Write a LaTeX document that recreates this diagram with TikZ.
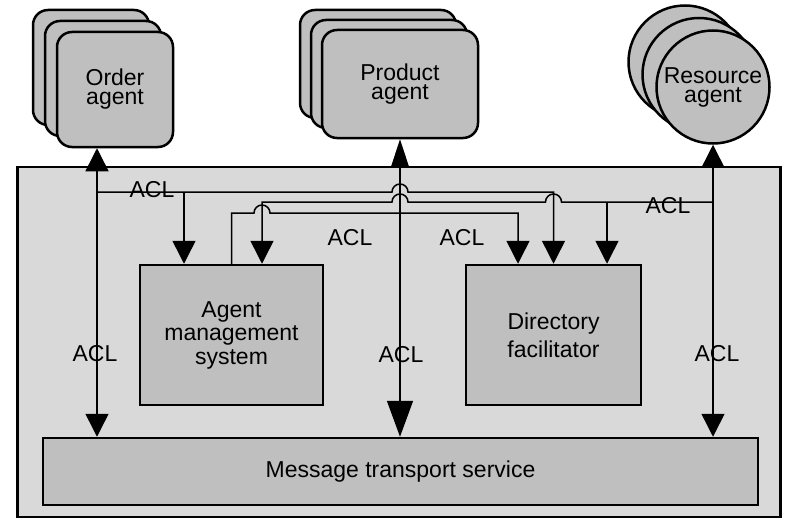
\documentclass[tikz,border=0pt]{standalone}
\usepackage{fontspec}
\setmainfont{Liberation Sans}
\usetikzlibrary{arrows.meta}
\definecolor{platgray}{gray}{0.85}
\definecolor{boxgray}{gray}{0.75}
\newcommand{\agentstack}[7]{%
  \node[#2] (#1back) at (#3-2*#5,#4-2*#6) {};
  \node[#2] (#1mid) at (#3-#5,#4-#6) {};
  \node[#2] (#1) at (#3,#4) {#7};
}

\begin{document}
\begin{tikzpicture}[x=1pt,y=-1pt,>={Triangle[length=23pt,width=23pt]},
  font=\fontsize{23}{23.5}\selectfont,
  block/.style={draw,line width=2.5pt,fill=boxgray,inner sep=0pt,align=center},
  agent/.style={block,rounded corners=15pt,font=\fontsize{23}{19}\selectfont},
  orderbox/.style={agent,minimum width=116pt,minimum height=115pt},
  prodbox/.style={agent,minimum width=156pt,minimum height=108pt},
  resbox/.style={agent,circle,minimum size=113pt},
  msg/.style={line width=1.5pt},
  acl/.style={inner sep=0pt}]
  \useasboundingbox (0,0) rectangle (786,519);
  \agentstack{order}{orderbox}{115}{89.5}{12}{11}{Order\\agent}
  \agentstack{prod}{prodbox}{400}{84}{11}{10}{Product\\agent}
  \agentstack{res}{resbox}{713}{87}{14}{12.5}{Resource\\agent}
  \node[block,fill=platgray,minimum width=763pt,minimum height=350pt] (platform) at (399,342) {};
  \node[block,minimum width=715pt,minimum height=67pt] (mts) at (400.5,471.5) {Message transport service};
  \node[block,minimum width=183pt,minimum height=140pt] (ams) at (231.5,335) {Agent\\management\\system};
  \node[block,minimum width=175pt,minimum height=140pt,font=\fontsize{23}{28}\selectfont] (df) at (553.5,335) {Directory\\facilitator};
  \coordinate (ordertap) at ([xshift=-18pt]order.south);
  \coordinate (tapA) at (97,192);
  \coordinate (amstap) at (184,192);
  \coordinate (tapB) at (713,202);
  \coordinate (dftap) at (607,202);
  \draw[msg,<->] (ordertap) -- (ordertap |- mts.north);
  \draw[msg,{Triangle[length=28pt,width=18pt]}-{Triangle[length=36pt,width=26pt]}] (prod.south) -- (prod.south |- mts.north);
  \draw[msg,<->] (res.south) -- (res.south |- mts.north);
  \draw[msg,->] (tapA) -- (392,192) arc[start angle=180,end angle=0,radius=8pt] -| (df.north);
  \draw[msg,->] (amstap) -- (amstap |- ams.north);
  \draw[msg,->] (tapB) -- (561.5,202) arc[start angle=0,end angle=180,radius=8pt] -- (408,202) arc[start angle=0,end angle=180,radius=8pt] -| ([xshift=30.5pt]ams.north);
  \draw[msg,->] (dftap) -- (dftap |- df.north);
  \draw[msg,->] (ams.north) |- (254,213) arc[start angle=180,end angle=0,radius=8pt] -| ([xshift=-35.5pt]df.north);
  \foreach \p [count=\i] in {(152,190),(350,238),(462,238),(668,206),(95,354),(401,355),(717,354)}
    \node[acl] (acl\i) at \p {ACL};
\end{tikzpicture}
\end{document}
